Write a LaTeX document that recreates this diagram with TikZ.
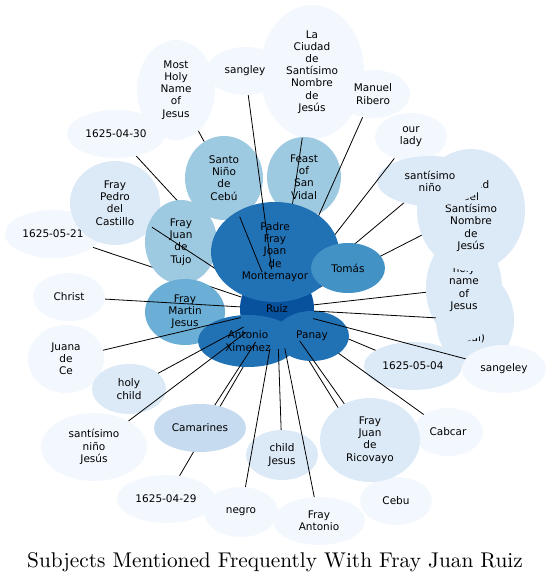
\documentclass[tikz,border=0pt]{standalone}
\usepackage{fontspec}
\usepackage{xcolor}
\usepackage{tikz}
\usetikzlibrary{shapes.geometric}
\newfontfamily\lblfont{DejaVu Sans}
\newfontfamily\titlefont{lmroman10-regular.otf}
\definecolor{blues0}{RGB}{243,248,254}
\definecolor{blues1}{RGB}{220,233,246}
\definecolor{blues2}{RGB}{198,219,239}
\definecolor{blues3}{RGB}{158,202,225}
\definecolor{blues4}{RGB}{107,174,214}
\definecolor{blues5}{RGB}{66,146,198}
\definecolor{blues6}{RGB}{33,113,181}
\definecolor{blues7}{RGB}{8,81,156}

\begin{document}
\begin{tikzpicture}[x=1pt,y=-1pt,
  bub/.style={ellipse,inner sep=0pt,align=center,font=\lblfont\fontsize{10.5}{12.2}\selectfont},
  sz/.style 2 args={minimum width=#1pt,minimum height=#2pt},
  link/.style={line width=0.8pt}]
\useasboundingbox (0,0) rectangle (550,583);
% outer ring
\node[bub,fill=blues0,sz={96}{48}] (d0521) at (53,234) {1625-05-21};
\node[bub,fill=blues0,sz={98}{48}] (d0430) at (116,134) {1625-04-30};
\node[bub,fill=blues0,sz={78}{100}] (most) at (176,90) {Most\\Holy\\Name\\of\\Jesus};
\node[bub,fill=blues0,sz={104}{134}] (laciudad) at (312,72) {La\\Ciudad\\de\\Santísimo\\Nombre\\de\\Jesús};
\node[bub,fill=blues0,sz={76}{48}] (sangley) at (245,71) {sangley};
\node[bub,fill=blues0,sz={74}{48}] (ribero) at (373,94) {Manuel\\Ribero};
\node[bub,fill=blues0,sz={72}{48}] (ourlady) at (411,137) {our\\lady};
\node[bub,fill=blues0,sz={72}{48}] (christ) at (69,297) {Christ};
\node[bub,fill=blues0,sz={76}{68}] (juana) at (66,359) {Juana\\de\\Ce};
\node[bub,fill=blues0,sz={106}{68}] (snjesus) at (94,447) {santísimo\\niño\\Jesús};
\node[bub,fill=blues0,sz={98}{48}] (d0429) at (166,499) {1625-04-29};
\node[bub,fill=blues0,sz={74}{50}] (negro) at (241,512) {negro};
\node[bub,fill=blues0,sz={92}{48}] (frayantonio) at (319,521) {Fray\\Antonio};
\node[bub,fill=blues0,sz={72}{48}] (cebu) at (396,501) {Cebu};
\node[bub,fill=blues0,sz={70}{48}] (cabcar) at (448,432) {Cabcar};
\node[bub,fill=blues1,sz={90}{84}] (pedro) at (115,203) {Fray\\Pedro\\del\\Castillo};
\node[bub,fill=blues1,sz={74}{50}] (holychild) at (129,389) {holy\\child};
\node[bub,fill=blues1,sz={72}{50}] (childjesus) at (282,455) {child\\Jesus};
% right cluster
\node[bub,fill=blues1,sz={78}{96}] (vidual) at (475,320) {\strut\\\strut\\\strut\\ual)};
\node[bub,fill=blues1,sz={76}{106}] (holyname) at (464,288) {holy\\name\\of\\Jesus};
\node[bub,fill=blues1,sz={108}{122}] (ciudad) at (471,210) {La\\Ciudad\\del\\Santísimo\\Nombre\\de\\Jesús};
\node[bub,fill=blues1,sz={106}{50}] (snino) at (430,181) {santísimo\\niño};
\node[bub,fill=blues1,sz={98}{48}] (d0504) at (413,366) {1625-05-04};
\node[bub,fill=blues0,sz={84}{48}] (sangeley) at (504,369) {sangeley};
% centre
\node[bub,fill=blues7,sz={74}{80}] (ruiz) at (277,309) {Ruiz};
\draw[link] (ruiz) -- (d0430);
\draw[link] (ruiz) -- (d0521);
\draw[link] (ruiz) -- (snino);
\draw[link] (ruiz) -- (ciudad);
\draw[link] (ruiz) -- (holyname);
\draw[link] (ruiz) -- (d0429);
\draw[link] (ruiz) -- (cebu);
\draw[link] (ruiz) -- (d0504);
\draw[link] (ruiz) -- (cabcar);
\node[bub,fill=blues3,sz={72}{84}] (tujo) at (181,242) {Fray\\Juan\\de\\Tujo};
\node[bub,fill=blues3,sz={74}{80}] (feast) at (304,177) {Feast\\of\\San\\Vidal};
\node[bub,fill=blues3,sz={78}{84}] (santonino) at (224,178) {Santo\\Niño\\de\\Cebú};
\node[bub,fill=blues2,sz={92}{48}] (camarines) at (200,428) {Camarines};
\node[bub,fill=blues1,sz={100}{84}] (ricovayo) at (370,440) {Fray\\Juan\\de\\Ricovayo};
\draw[link] (ruiz) -- (laciudad);
\draw[link] (ruiz) -- (ribero);
\draw[link] (ruiz) -- (ourlady);
\draw[link] (ruiz) -- (pedro);
\draw[link] (most) -- (santonino);
\node[bub,fill=blues6,sz={128}{100}] (padre) at (275,252) {Padre\\Fray\\Joan\\de\\Montemayor};
\node[bub,fill=blues5,sz={74}{50}] (tomas) at (348,268) {Tomás};
\node[bub,fill=blues4,sz={80}{66}] (martin) at (185,312) {Fray\\Martin\\Jesus};
\node[bub,fill=blues6,sz={100}{52}] (ximenez) at (248,341) {Antonio\\Ximenez};
\node[bub,fill=blues6,sz={74}{50}] (panay) at (312,336) {Panay};
\draw[link] (ruiz) -- (sangley);
\draw[link] (ruiz) -- (santonino);
\draw[link] (ruiz) -- (negro);
\draw[link] (ruiz) -- (childjesus);
\draw[link] (ruiz) -- (frayantonio);
\draw[link] (ruiz) -- (camarines);
\draw[link] (ruiz) -- (holychild);
\draw[link] (ruiz) -- (snjesus);
\draw[link] (ruiz) -- (juana);
\draw[link] (ruiz) -- (christ);
\draw[link] (ruiz) -- (vidual);
\draw[link] (ruiz) -- (sangeley);
\draw[link] (ruiz) -- (ricovayo);
\node[font=\titlefont\fontsize{21.3}{25}\selectfont] (title) at (275,562) {Subjects Mentioned Frequently With Fray Juan Ruiz};
\end{tikzpicture}
\end{document}
